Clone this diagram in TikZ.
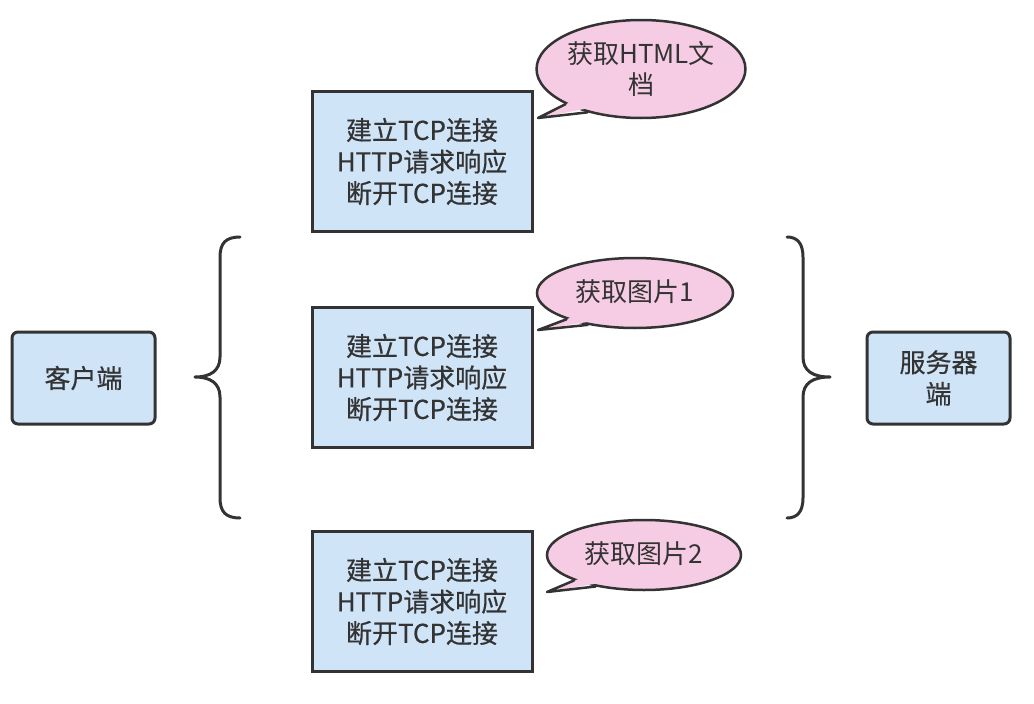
\documentclass[tikz,border=0pt]{standalone}
\usepackage{fontspec}
\newfontfamily\cjk[FakeBold=0.5]{Noto Sans CJK SC}
\newfontfamily\cjklight{Noto Sans CJK SC}
\usetikzlibrary{shapes.geometric,calc}
\definecolor{strokec}{HTML}{333333}
\definecolor{boxfill}{HTML}{D0E4F8}
\definecolor{bubfill}{HTML}{F6CCE4}
\definecolor{txt}{HTML}{333333}
\tikzset{
  txtstyle/.style={font=\cjk\fontsize{26}{31.5}\selectfont, text=txt, align=center},
  stepbox/.style={txtstyle, draw=strokec, line width=3pt, fill=boxfill, minimum width=220pt, minimum height=140pt, inner sep=0pt},
  endbox/.style={txtstyle, draw=strokec, line width=3pt, fill=boxfill, rounded corners=6pt, minimum width=143pt, minimum height=92pt, inner sep=0pt},
  bubble/.style={font=\cjklight\fontsize{26}{31.5}\selectfont, text=txt, align=center, ellipse, draw=strokec, line width=2.5pt, fill=bubfill, inner sep=0pt},
  bracestyle/.style={draw=strokec, line width=3pt, line cap=round, line join=round},
  tailedge/.style={draw=strokec, line width=2.5pt, line cap=round, line join=round},
}
\begin{document}
\begin{tikzpicture}[x=1pt,y=-1pt]
\useasboundingbox (0,0) rectangle (1034,704);

% step boxes
\node[stepbox] (s1) at (422,161.5) {建立TCP连接\\HTTP请求响应\\断开TCP连接};
\node[stepbox] (s2) at (422,377.5) {建立TCP连接\\HTTP请求响应\\断开TCP连接};
\node[stepbox] (s3) at (422,601.5) {建立TCP连接\\HTTP请求响应\\断开TCP连接};

% end boxes
\node[endbox] (client) at (83.5,378) {客户端};
\node[endbox] (server) at (938.5,378) {服务器\\端};

% braces
\draw[bracestyle] (240,237) .. controls (226,237) and (220,243) .. (220,257) -- (220,357)
  .. controls (220,371) and (210,377) .. (195,377)
  .. controls (210,377) and (220,383) .. (220,397) -- (220,498)
  .. controls (220,512) and (226,518) .. (240,518);
\draw[bracestyle] (787,237) .. controls (797,237) and (803,243) .. (803,257) -- (803,357)
  .. controls (803,371) and (813,377) .. (830,377)
  .. controls (813,377) and (803,383) .. (803,397) -- (803,498)
  .. controls (803,512) and (797,518) .. (787,518);

% bubbles
\node[bubble, minimum width=205pt, minimum height=98pt] (b1) at (641,69) {获取HTML文\\档};
\node[bubble, minimum width=196pt, minimum height=70pt, text depth=4pt] (b2) at (635,293) {获取图片1};
\node[bubble, minimum width=194pt, minimum height=70pt, text depth=4pt] (b3) at (644,555) {获取图片2};

% tails
\coordinate (t1) at (538,118);
\coordinate (t2) at (538,330);
\coordinate (t3) at (547,592);
\foreach \b/\t/\a/\c in {b1/t1/205/219, b2/t2/201/214, b3/t3/200/213}{
  \fill[bubfill] ($(\b.\a)!0.12!(\b.center)$) -- (\t) -- ($(\b.\c)!0.12!(\b.center)$) -- cycle;
  \draw[tailedge] (\b.\a) -- (\t) -- (\b.\c);
}
\end{tikzpicture}
\end{document}
